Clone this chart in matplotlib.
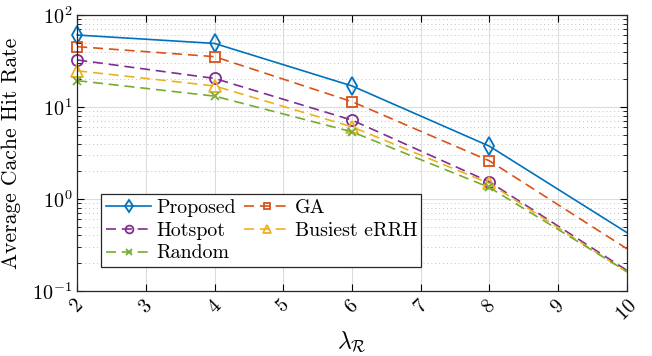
import numpy as np
import matplotlib
matplotlib.use("Agg")
import matplotlib.pyplot as plt

plt.rcParams['font.family'] = 'serif'
plt.rcParams['font.serif'] = ['cmr10']
plt.rcParams['mathtext.fontset'] = 'cm'
plt.rcParams['axes.formatter.use_mathtext'] = True

# data
lam = [2, 4, 6, 8, 10]
proposed = [60.5, 49.0, 16.9, 3.74, 0.43]
ga = [45.2, 35.2, 11.4, 2.59, 0.287]
hotspot = [32.4, 20.4, 7.18, 1.53, 0.167]
busiest = [24.7, 16.9, 6.07, 1.47, 0.16]
random_ = [19.3, 13.1, 5.36, 1.33, 0.162]

c_blue = '#0072BD'
c_orange = '#D95319'
c_purple = '#7E2F8E'
c_yellow = '#EDB120'
c_green = '#77AC30'

fig = plt.figure(figsize=(6.52, 3.56), dpi=100)
ax = fig.add_axes([0.1185, 0.183, 0.843, 0.775])

dash = (0, (6, 3.5))
mk = [0, 1, 2, 3]  # no marker at the right edge
common = dict(lw=1.2, mfc='none', mew=1.3, markevery=mk, clip_on=False)
h1, = ax.plot(lam, proposed, '-', color=c_blue, marker='d', ms=9,
              label='Proposed', **common)
h2, = ax.plot(lam, ga, color=c_orange, ls=dash, marker='s', ms=6.5,
              label='GA', **common)
h3, = ax.plot(lam, hotspot, color=c_purple, ls=dash, marker='o', ms=8,
              label='Hotspot', **common)
h4, = ax.plot(lam, busiest, color=c_yellow, ls=dash, marker='^', ms=8,
              label='Busiest eRRH', **common)
h5, = ax.plot(lam, random_, color=c_green, ls=dash, marker='x', ms=5.5,
              label='Random', **common)

ax.set_yscale('log')
ax.set_xlim(2, 10)
ax.set_ylim(0.1, 100)
ax.set_xticks(range(2, 11))
for lbl in ax.get_xticklabels():
    lbl.set_rotation(45)
ax.tick_params(axis='both', which='both', direction='in', top=True, right=True,
               labelsize=14.5)
ax.tick_params(axis='x', pad=4)
ax.tick_params(which='major', length=5, width=0.8)
ax.tick_params(which='minor', length=3, width=0.6)
ax.grid(True, which='major', color='#dcdcdc', lw=0.8)
ax.grid(True, which='minor', axis='y', color='#c0c0c0', ls=(0, (1, 3)), lw=0.7)
for s in ax.spines.values():
    s.set_color('#262626')
    s.set_linewidth(0.9)
    s.set_zorder(3)

ax.set_xlabel(r'$\lambda_{\mathcal{R}}$', fontsize=17)
ax.set_ylabel('Average Cache Hit Rate', fontsize=15.5, labelpad=8)

leg = ax.legend(handles=[h1, h3, h5, h2, h4], ncol=2, loc='lower left',
                bbox_to_anchor=(0.044, 0.087), fontsize=14.3, fancybox=False,
                edgecolor='#262626', framealpha=1, handlelength=2.3,
                handletextpad=0.25, columnspacing=0.4, labelspacing=0.25,
                borderpad=0.22, borderaxespad=0, markerscale=0.7)
leg.get_frame().set_linewidth(0.9)
leg.set_zorder(5)

fig.savefig('out.png', dpi=100)
